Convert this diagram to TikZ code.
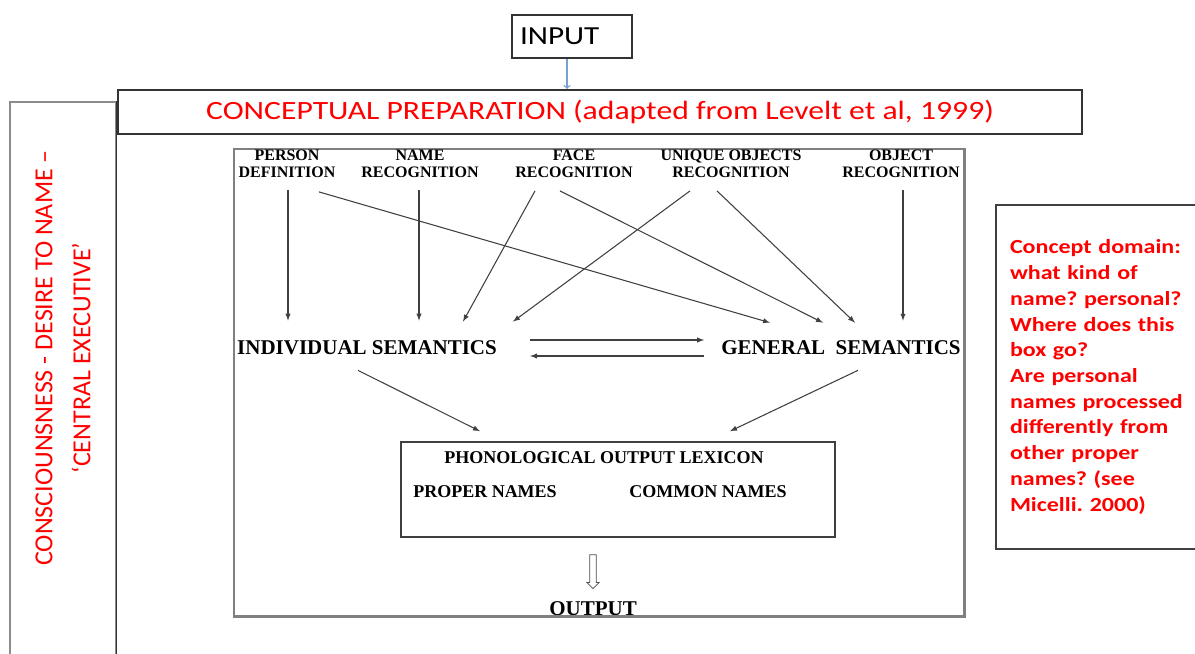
\documentclass[tikz,border=0pt]{standalone}
\usepackage{fontspec}
\setmainfont{Liberation Serif}
\newfontfamily\calib[FakeStretch=1.2]{Carlito}
\newfontfamily\calibn{Carlito}
\usetikzlibrary{shapes,arrows,positioning,calc}
\frenchspacing

\begin{document}
\begin{tikzpicture}[x=0.75pt,y=-0.75pt]
	\tikzstyle{Frame} = [draw=black!80, line width=1.5pt, inner sep=0pt]
	\tikzstyle{Thin}  = [draw=black!45, line width=0.8pt, inner sep=0pt]
	\tikzstyle{Red}   = [text=red, font=\calib\fontsize{19.8}{24}\selectfont]
	\tikzstyle{Note}  = [text=red, font=\calib\bfseries\fontsize{15}{19.3}\selectfont]
	\tikzstyle{Src}   = [align=center, inner sep=0pt, font=\bfseries\fontsize{12}{12.4}\selectfont]
	\tikzstyle{Sem}   = [inner sep=0pt, font=\bfseries\fontsize{15.75}{18}\selectfont]
	\tikzstyle{Lex}   = [inner sep=0pt, font=\bfseries\fontsize{13.5}{16}\selectfont]
	\tikzstyle{Arr}   = [-latex, black!75, line width=0.8pt]
	\tikzstyle{Blue}  = [->, color={rgb,255:red,120;green,160;blue,210}, line width=1pt]

	\useasboundingbox (0,0) rectangle (1195,653);

	% outer boxes
	\node (inp) at (572,36) [Frame, text width=78pt, align=left, inner xsep=6pt, minimum height=32.25pt, font=\calib\fontsize{19.5}{20}\selectfont] {INPUT};
	\node (cp) at (600,112) [Frame, minimum width=723pt, minimum height=33pt, Red] {CONCEPTUAL PREPARATION (adapted from Levelt et al, 1999)};
	\node (ce) at (63,401) [Thin, minimum width=79.5pt, minimum height=448.5pt] {};
	\draw [black!80, line width=1.2pt] (ce.north east) -- (ce.south east);
	\node (cet) at (63,358) [rotate=90, align=center, text=red, font=\calibn\fontsize{19.5}{28.5}\selectfont] {CONSCIOUNSNESS - DESIRE TO NAME –\\‘CENTRAL EXECUTIVE’};
	\node (cq) at (995,377) [Frame, draw=black!75, anchor=west, minimum height=258pt, text width=150pt, align=left, inner xsep=10.5pt, Note] {Concept domain:\\what kind of\\name? personal?\\Where does this\\box go?\\Are personal\\names processed\\differently from\\other proper\\names? (see\\Micelli. 2000)};
	\draw [Blue] ([xshift=-3.75pt]inp.south) -- ([xshift=-3.75pt]inp.south |- cp.north);

	% the model
	\node (fig) at (599,382.5) [Thin, draw=black!50, minimum width=547.5pt, minimum height=350.25pt] {};

	\node (s0) at (287,164) [Src] {PERSON\\DEFINITION};
	\node (s1) at (420,164) [Src] {NAME\\RECOGNITION};
	\node (s2) at (574,164) [Src] {FACE\\RECOGNITION};
	\node (s3) at (731,164) [Src] {UNIQUE OBJECTS\\RECOGNITION};
	\node (s4) at (901,164) [Src] {OBJECT\\RECOGNITION};

	\node (is) at (367,348) [Sem] {INDIVIDUAL SEMANTICS};
	\node (gs) at (841,348) [Sem] {GENERAL\ \ SEMANTICS};

	\draw [Arr] ($(s0.south)+(1,12)$) to ($(is.north)+(-79,-20)$);
	\draw [Arr] ($(s0.south)+(32,14)$) to ($(gs.north)+(-71,-18)$);
	\draw [Arr] ($(s1.south)+(-1,12)$) to ($(is.north)+(52,-20)$);
	\draw [Arr] ($(s2.south)+(-39,13)$) to ($(is.north)+(96,-19)$);
	\draw [Arr] ($(s2.south)+(-14,13)$) to ($(gs.north)+(-18,-18)$);
	\draw [Arr] ($(s3.south)+(-41,13)$) to ($(is.north)+(146,-19)$);
	\draw [Arr] ($(s3.south)+(-14,13)$) to ($(gs.north)+(14,-18)$);
	\draw [Arr] ($(s4.south)+(2,12)$) to ($(gs.north)+(62,-20)$);

	\draw [Arr] ($(is.east)+(33,-8)$) to ($(gs.west)+(-17,-8)$);
	\draw [Arr] ($(gs.west)+(-17,8)$) to ($(is.east)+(33,8)$);

	\node (lx) at (618,489.5) [Frame, draw=black!75, line width=1.2pt, minimum width=325.5pt, minimum height=71.25pt] {};
	\node (lt) at (604,458) [Lex] {PHONOLOGICAL OUTPUT LEXICON};
	\node (pn) at (485,492) [Lex] {PROPER NAMES};
	\node (cn) at (708,492) [Lex] {COMMON NAMES};

	\draw [Arr] ($(is.south)+(-9,15)$) to ($(lx.north)+(-138,-10)$);
	\draw [Arr] ($(gs.south)+(17,15)$) to ($(lx.north)+(112,-10)$);

	\node (dn) at (593,570) [single arrow, rotate=-90, draw=black!70, line width=0.6pt, fill=white, minimum height=25.5pt, inner xsep=0pt, inner ysep=2.2pt, single arrow head extend=2.2pt] {};
	\node (out) at (593,609) [Sem] {OUTPUT};
	\draw [black!50, line width=2.2pt] (fig.north east) -- (fig.south east) -- (fig.south west);
\end{tikzpicture}
\end{document}
